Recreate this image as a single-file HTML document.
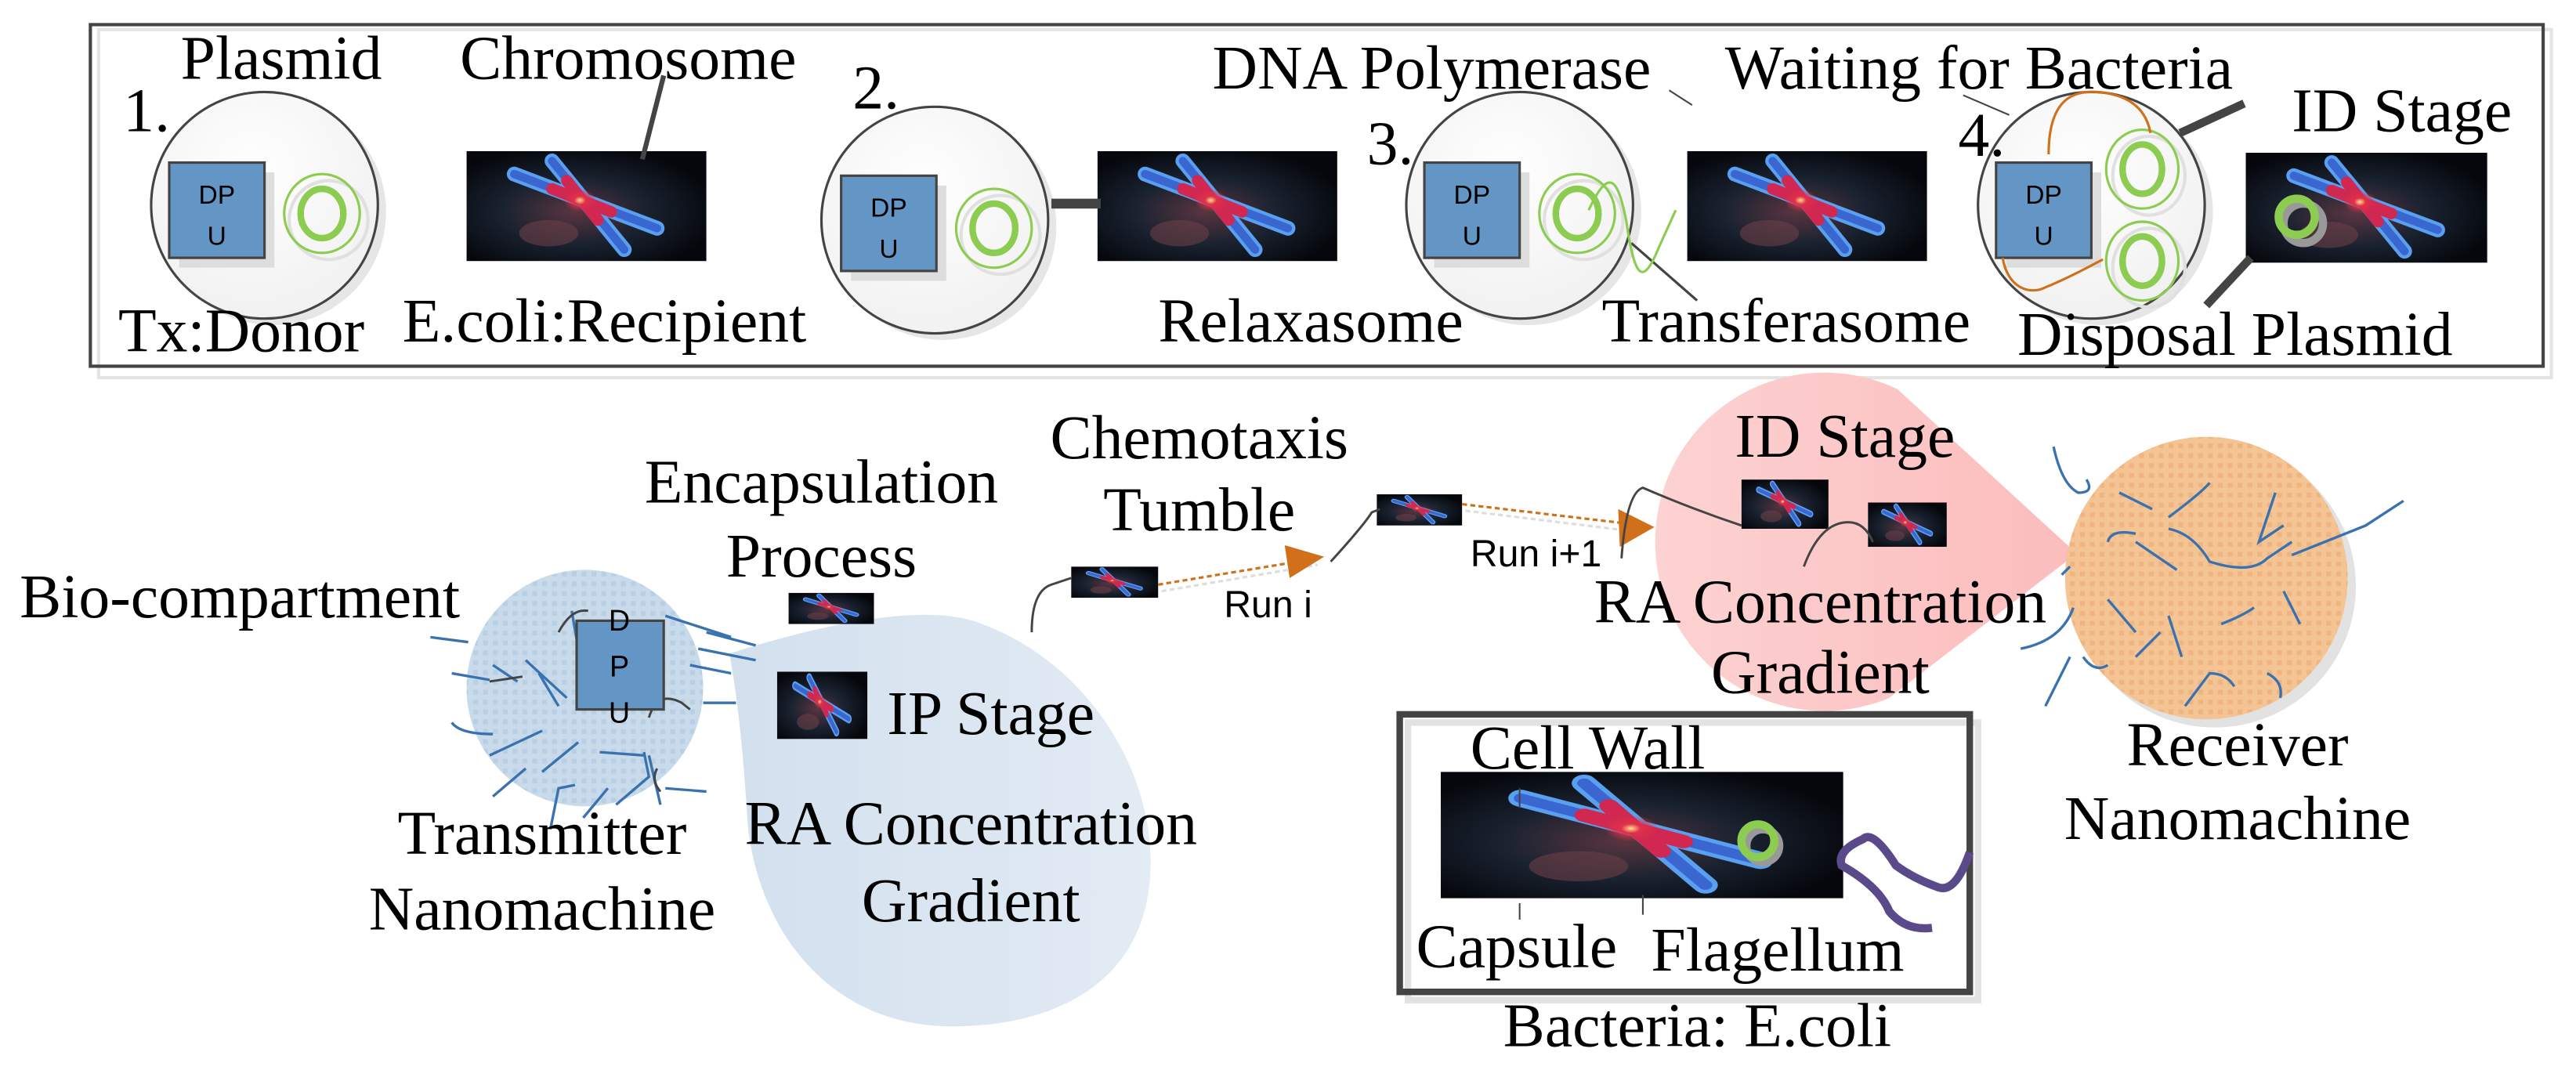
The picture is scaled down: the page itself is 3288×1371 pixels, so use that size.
<!DOCTYPE html>
<html><head><meta charset="utf-8"><style>
html,body{margin:0;padding:0;background:#fff;}
svg{display:block;}
text{font-family:"Liberation Serif",serif;fill:#000;}
.s{font-family:"Liberation Sans",sans-serif;}
</style></head><body>
<svg width="3288" height="1371" viewBox="0 0 1568 654" preserveAspectRatio="none" xmlns="http://www.w3.org/2000/svg">
<defs>
<radialGradient id="glow" cx="0.45" cy="0.55" r="0.6">
<stop offset="0" stop-color="#5a3540"/><stop offset="0.5" stop-color="#1a2230"/><stop offset="1" stop-color="#05070c"/>
</radialGradient>
<radialGradient id="core" cx="0.5" cy="0.5" r="0.5">
<stop offset="0" stop-color="#ffe08a"/><stop offset="0.35" stop-color="#e0304a"/><stop offset="1" stop-color="#e0304a" stop-opacity="0"/>
</radialGradient>
<symbol id="chr" viewBox="0 0 146 67" preserveAspectRatio="none">
<rect width="146" height="67" fill="url(#glow)"/>
<ellipse cx="50" cy="50" rx="18" ry="8" fill="#6a4048" opacity="0.6"/>
<line x1="29" y1="14" x2="116" y2="47" stroke="#5aa0f0" stroke-width="9" stroke-linecap="round"/>
<line x1="52" y1="6" x2="96" y2="60" stroke="#5aa0f0" stroke-width="9" stroke-linecap="round"/>
<line x1="29" y1="14" x2="116" y2="47" stroke="#3a66d0" stroke-width="5" stroke-linecap="round"/>
<line x1="52" y1="6" x2="96" y2="60" stroke="#3a66d0" stroke-width="5" stroke-linecap="round"/>
<line x1="52" y1="23" x2="88" y2="37" stroke="#d02850" stroke-width="7" stroke-linecap="round"/>
<line x1="61" y1="18" x2="80" y2="42" stroke="#d02850" stroke-width="7" stroke-linecap="round"/>
<ellipse cx="69" cy="30" rx="10" ry="7" fill="url(#core)"/>
</symbol>
<pattern id="dotb" width="6" height="6" patternUnits="userSpaceOnUse"><rect width="6" height="6" fill="#c9dbeb"/><rect width="3" height="3" fill="#b8cfe4"/></pattern>
<pattern id="doto" width="6" height="6" patternUnits="userSpaceOnUse"><rect width="6" height="6" fill="#f5c495"/><rect width="3" height="3" fill="#efb580"/></pattern>
<linearGradient id="blueblob" x1="0" y1="0" x2="1" y2="0"><stop offset="0" stop-color="#d2e0ee"/><stop offset="1" stop-color="#e3ebf4"/></linearGradient>
<linearGradient id="pink" x1="0" y1="0" x2="1" y2="0"><stop offset="0" stop-color="#fdd2d2"/><stop offset="1" stop-color="#fbbcbc"/></linearGradient>
<radialGradient id="cellg" cx="0.45" cy="0.35" r="0.7"><stop offset="0" stop-color="#ffffff"/><stop offset="1" stop-color="#f0f0f0"/></radialGradient>
</defs>

<rect x="60" y="18" width="1493" height="212" fill="none" stroke="#e4e4e4" stroke-width="2"/>
<rect x="55" y="15" width="1493" height="208" fill="none" stroke="#444" stroke-width="2"/>

<g stroke="#444" stroke-width="1.5">
<circle cx="166" cy="129" r="69" fill="#e6e6e6" stroke="none"/>
<circle cx="161" cy="125" r="69" fill="url(#cellg)"/>
<circle cx="574" cy="138" r="69" fill="#e6e6e6" stroke="none"/>
<circle cx="569" cy="134" r="69" fill="url(#cellg)"/>
<circle cx="930" cy="129" r="69" fill="#e6e6e6" stroke="none"/>
<circle cx="925" cy="125" r="69" fill="url(#cellg)"/>
<circle cx="1278" cy="129" r="69" fill="#e6e6e6" stroke="none"/>
<circle cx="1273" cy="125" r="69" fill="url(#cellg)"/>
</g>
<g fill="#6396c4" stroke="#444" stroke-width="1.5">
<rect x="109" y="105" width="58" height="58" fill="#ddd" stroke="none"/>
<rect x="103" y="99" width="58" height="58"/>
<rect x="518" y="113" width="58" height="58" fill="#ddd" stroke="none"/>
<rect x="512" y="107" width="58" height="58"/>
<rect x="873" y="105" width="58" height="58" fill="#ddd" stroke="none"/>
<rect x="867" y="99" width="58" height="58"/>
<rect x="1221" y="105" width="58" height="58" fill="#ddd" stroke="none"/>
<rect x="1215" y="99" width="58" height="58"/>
</g>
<g class="s" font-size="16" text-anchor="middle">
<text class="s" x="132" y="124">DP</text><text class="s" x="132" y="149">U</text>
<text class="s" x="541" y="132">DP</text><text class="s" x="541" y="157">U</text>
<text class="s" x="896" y="124">DP</text><text class="s" x="896" y="149">U</text>
<text class="s" x="1244" y="124">DP</text><text class="s" x="1244" y="149">U</text>
</g>
<g fill="none">
<g stroke="#e0e0e0" stroke-width="2"><ellipse cx="200" cy="134" rx="24" ry="24"/><ellipse cx="609" cy="143" rx="24" ry="24"/><ellipse cx="964" cy="134" rx="24" ry="24"/><ellipse cx="1308" cy="107" rx="22" ry="24"/><ellipse cx="1308" cy="163" rx="22" ry="24"/></g>
<g stroke="#8ccc50" stroke-width="1.5"><ellipse cx="196" cy="130" rx="23" ry="24"/><ellipse cx="605" cy="139" rx="23" ry="24"/><ellipse cx="960" cy="130" rx="23" ry="24"/><ellipse cx="1304" cy="103" rx="22" ry="24"/><ellipse cx="1304" cy="159" rx="22" ry="24"/></g>
<g stroke="#8ccc50" stroke-width="4"><ellipse cx="196" cy="130" rx="13" ry="15"/><ellipse cx="605" cy="139" rx="13" ry="15"/><ellipse cx="960" cy="130" rx="13" ry="15"/><ellipse cx="1304" cy="103" rx="12" ry="15"/><ellipse cx="1304" cy="159" rx="12" ry="15"/></g>
</g>
<use href="#chr" x="284" y="92" width="146" height="67"/>
<use href="#chr" x="668" y="92" width="146" height="67"/>
<use href="#chr" x="1027" y="92" width="146" height="67"/>
<use href="#chr" x="1367" y="93" width="147" height="67"/>
<circle cx="1402" cy="136" r="12" fill="none" stroke="#999" stroke-width="5"/>
<circle cx="1398" cy="132" r="11" fill="none" stroke="#8ccc50" stroke-width="5"/>
<g stroke="#444" fill="none">
<line x1="404" y1="46" x2="391" y2="97" stroke-width="3"/>
<line x1="640" y1="124" x2="670" y2="124" stroke-width="6"/>
<line x1="993" y1="148" x2="1033" y2="183" stroke-width="1.5"/>
<line x1="1327" y1="81" x2="1366" y2="63" stroke-width="5"/>
<line x1="1343" y1="186" x2="1370" y2="157" stroke-width="5"/>
<line x1="1016" y1="55" x2="1030" y2="64" stroke-width="1"/>
<line x1="1195" y1="58" x2="1223" y2="70" stroke-width="1"/>
</g>
<path d="M967,128 C980,100 985,110 990,135 C995,170 1000,175 1010,150 L1020,128" fill="none" stroke="#8ccc50" stroke-width="1.5"/>
<path d="M1247,94 C1247,60 1262,55 1277,56 C1300,58 1307,70 1309,81" fill="none" stroke="#d0701a" stroke-width="1.5"/>
<path d="M1219,157 C1222,175 1235,180 1245,175 C1262,168 1272,162 1280,158" fill="none" stroke="#d0701a" stroke-width="1.5"/>

<g font-size="38" font-family="Liberation Serif, serif">
<text x="75" y="80">1.</text>
<text x="110" y="48">Plasmid</text>
<text x="280" y="48">Chromosome</text>
<text x="72" y="214">Tx:Donor</text>
<text x="245" y="208">E.coli:Recipient</text>
<text x="519" y="66">2.</text>
<text x="738" y="54">DNA Polymerase</text>
<text x="832" y="100">3.</text>
<text x="705" y="208">Relaxasome</text>
<text x="975" y="208">Transferasome</text>
<text x="1050" y="54">Waiting for Bacteria</text>
<text x="1192" y="95">4.</text>
<text x="1395" y="80">ID Stage</text>
<text x="1228" y="216">Disposal Plasmid</text>
</g>

<path d="M444,398 C500,380 560,368 592,378 C660,400 705,470 700,535 C695,600 640,625 580,625 C500,625 460,560 455,500 C452,450 448,420 444,398 Z" fill="url(#blueblob)"/>
<circle cx="356" cy="419" r="72" fill="url(#dotb)"/>
<g stroke="#3a72b0" stroke-width="1.6" fill="none">
<path d="M320,402 L345,425"/><path d="M300,405 L315,415"/><path d="M275,410 L298,414"/><path d="M275,440 Q280,447 300,447"/>
<path d="M298,460 L330,445"/><path d="M300,485 L320,468"/><path d="M330,470 L352,452"/><path d="M335,505 L340,480 L350,478"/>
<path d="M355,498 L370,480"/><path d="M375,490 L395,473 L392,458"/><path d="M365,458 L392,460"/><path d="M395,460 L402,490"/>
<path d="M405,480 L430,482"/><path d="M425,395 L460,402"/><path d="M420,405 L445,410"/><path d="M428,428 L448,428"/>
<path d="M430,385 L460,393"/><path d="M405,375 L445,388"/><path d="M348,372 L352,395"/><path d="M328,410 L340,430"/>
<path d="M262,388 L285,391"/>
</g>
<g stroke="#444" stroke-width="1.4" fill="none">
<path d="M340,385 Q348,370 358,372"/><path d="M298,415 L318,412"/><path d="M395,437 Q400,420 415,428 L420,432"/><path d="M400,468 Q396,475 402,482"/>
</g>
<rect x="351" y="378" width="53" height="54" fill="#6396c4" stroke="#444" stroke-width="1.5"/>
<g font-size="18" text-anchor="middle" class="s"><text class="s" x="377" y="384">D</text><text class="s" x="377" y="412">P</text><text class="s" x="377" y="440">U</text></g>
<use href="#chr" x="480" y="361" width="52" height="19"/>
<use href="#chr" x="473" y="409" width="55" height="41"/>
<use href="#chr" x="652" y="345" width="53" height="19"/>
<use href="#chr" x="838" y="301" width="52" height="19"/>

<g fill="none">
<path d="M705,356 L800,340" stroke="#ddd" stroke-width="1.5" stroke-dasharray="3,2" transform="translate(2,4)"/>
<path d="M705,356 L796,341" stroke="#d0701a" stroke-width="1.5" stroke-dasharray="3,2"/>
<path d="M890,307 L996,320" stroke="#ddd" stroke-width="1.5" stroke-dasharray="3,2" transform="translate(2,4)"/>
<path d="M890,307 L992,319" stroke="#d0701a" stroke-width="1.5" stroke-dasharray="3,2"/>
</g>
<polygon points="782,332 806,339 785,352" fill="#d0701a"/>
<polygon points="985,310 1007,321 986,333" fill="#d0701a"/>
<g stroke="#444" stroke-width="1.4" fill="none">
<path d="M628,385 Q628,360 640,356 L652,352"/>
<path d="M810,342 Q830,320 835,312 L840,310"/>
</g>

<path d="M1264,337 L1150,425 A103,103 0 1,1 1155,237 Z" fill="url(#pink)"/>
<use href="#chr" x="1060" y="292" width="53" height="30"/>
<use href="#chr" x="1137" y="306" width="48" height="27"/>
<g stroke="#444" stroke-width="1.4" fill="none">
<path d="M987,340 Q990,300 1000,297 Q1030,310 1060,320"/>
<path d="M1098,345 Q1108,318 1125,318 Q1135,318 1140,330"/>
</g>

<circle cx="1348" cy="357" r="86" fill="#e2e2e2"/>
<circle cx="1343" cy="352" r="86" fill="url(#doto)"/>
<g stroke="#3a72b0" stroke-width="1.6" fill="none">
<path d="M1250,272 Q1255,295 1265,300 Q1275,300 1270,292"/><path d="M1290,300 L1310,310"/><path d="M1320,315 Q1340,300 1345,294"/>
<path d="M1283,330 Q1285,322 1300,325"/><path d="M1300,330 L1325,347"/><path d="M1320,322 Q1335,325 1345,342 Q1370,350 1380,340 L1395,330"/>
<path d="M1385,300 L1375,330 L1390,320"/><path d="M1395,338 L1440,320 L1463,305"/><path d="M1283,365 L1300,385"/>
<path d="M1320,375 L1328,400"/><path d="M1352,380 Q1365,375 1372,370"/><path d="M1390,360 L1400,380"/><path d="M1268,400 Q1275,410 1283,405"/>
<path d="M1300,400 L1315,385"/><path d="M1245,430 L1260,400"/><path d="M1330,430 L1345,410 Q1355,410 1360,418"/><path d="M1380,410 Q1390,415 1388,425"/>
<path d="M1255,350 L1260,345"/><path d="M1230,395 Q1255,390 1262,370"/>
</g>

<rect x="857" y="440" width="347" height="169" fill="none" stroke="#e2e2e2" stroke-width="4"/>
<rect x="852" y="435" width="347" height="169" fill="none" stroke="#444" stroke-width="4"/>
<use href="#chr" x="877" y="470" width="245" height="77"/>
<circle cx="1073" cy="515" r="10" fill="none" stroke="#999" stroke-width="5"/>
<circle cx="1070" cy="512" r="10" fill="none" stroke="#8ccc50" stroke-width="5"/>
<path d="M1199,519 Q1190,545 1179,540 Q1165,535 1154,527 Q1140,505 1134,511 Q1118,518 1121,527 Q1144,540 1150,555 Q1160,567 1176,565" fill="none" stroke="#5a4a8a" stroke-width="5"/>
<g stroke="#444" stroke-width="1"><line x1="925" y1="550" x2="925" y2="560"/><line x1="1000" y1="545" x2="1000" y2="557"/><line x1="925" y1="480" x2="925" y2="492"/></g>

<g font-size="38" font-family="Liberation Serif, serif">
<text x="12" y="376">Bio-compartment</text>
<text x="500" y="306" text-anchor="middle">Encapsulation</text>
<text x="500" y="351" text-anchor="middle">Process</text>
<text x="730" y="279" text-anchor="middle">Chemotaxis</text>
<text x="730" y="323" text-anchor="middle">Tumble</text>
<text x="540" y="447">IP Stage</text>
<text x="591" y="514" text-anchor="middle">RA Concentration</text>
<text x="591" y="561" text-anchor="middle">Gradient</text>
<text x="330" y="520" text-anchor="middle">Transmitter</text>
<text x="330" y="566" text-anchor="middle">Nanomachine</text>
<text x="1123" y="278" text-anchor="middle">ID Stage</text>
<text x="1108" y="379" text-anchor="middle">RA Concentration</text>
<text x="1108" y="422" text-anchor="middle">Gradient</text>
<text x="1362" y="466" text-anchor="middle">Receiver</text>
<text x="1362" y="511" text-anchor="middle">Nanomachine</text>
<text x="895" y="468">Cell Wall</text>
<text x="862" y="589">Capsule</text>
<text x="1005" y="591">Flagellum</text>
<text x="915" y="637">Bacteria: E.coli</text>
</g>
<g font-size="23" class="s">
<text class="s" x="745" y="376">Run i</text>
<text class="s" x="895" y="345">Run i+1</text>
</g>
</svg>
</body></html>
